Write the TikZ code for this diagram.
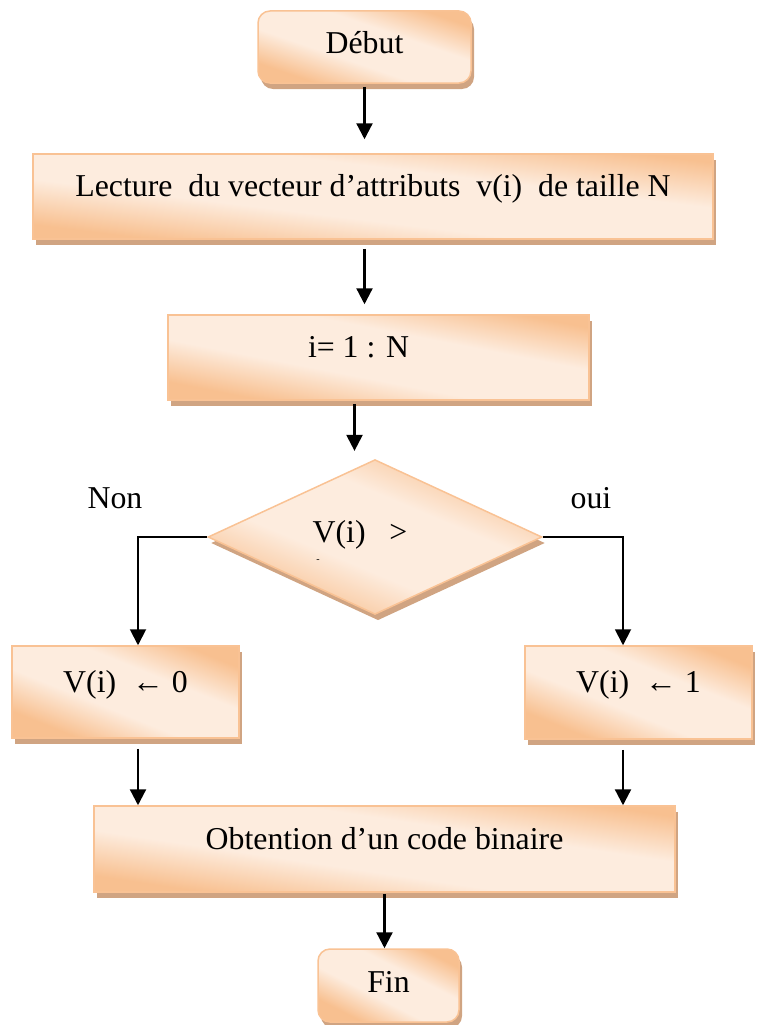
\documentclass[tikz,border=0pt]{standalone}
\usepackage{fontspec}
\setmainfont{Liberation Serif}
\usetikzlibrary{arrows.meta,shapes.geometric,shadows}
\definecolor{fillDark}{RGB}{248,192,144}
\definecolor{fillLight}{RGB}{253,236,222}
\definecolor{edgeOrange}{RGB}{249,194,148}
\definecolor{shadowTan}{RGB}{208,164,130}
% light band across the middle, warm orange towards two opposite corners
\pgfdeclareverticalshading{boxglow}{100bp}{color(0bp)=(fillDark); color(27bp)=(fillDark);
  color(42bp)=(fillLight); color(60bp)=(fillLight); color(75bp)=(fillDark); color(100bp)=(fillDark)}
\begin{document}
\begin{tikzpicture}[x=1pt,y=-1pt,
  every node/.style={font=\fontsize{31.8}{38}\selectfont, inner sep=0pt},
  flowbox/.style={draw=edgeOrange, line width=1.5pt,
    shading=boxglow, shading angle=-20,
    drop shadow={shadow xshift=3pt, shadow yshift=-6pt, fill=shadowTan, opacity=1},
    text height=14pt, text depth=14pt},
  roundbox/.style={flowbox, rounded corners=12pt, text height=22pt, text depth=8pt},
  decbox/.style={flowbox, shape=diamond, text height=20pt, text depth=10pt},
  arr/.style={-{Triangle[length=16pt,width=16pt]}, line width=2.3pt},
  branch/.style={arr, line width=1.9pt}]
\useasboundingbox (0,0) rectangle (756,1025);

% process steps (the band of light follows each box's falling diagonal)
\node[roundbox, shading angle=-19, minimum width=213pt, minimum height=72pt] (debut) at (364.5,47) {Début};
\node[flowbox, shading angle=-7, minimum width=680pt, minimum height=85pt] (lecture) at (373,196.5)
  {Lecture\ \ du vecteur d’attributs\ \ v(i)\ \ de taille N};
\node[flowbox, shading angle=-11, minimum width=421pt, minimum height=85pt] (loop) at (378.5,357.5)
  {i= 1 : N\hspace*{40pt}};
\node[decbox, shading angle=-23, minimum width=334pt, minimum height=144pt] (dec) at (375,537)
  {V(i)\ \ \ >\hspace*{30pt}};
\node[font=\fontsize{10}{12}\selectfont] (tick) at (318,561) {-};
\node[flowbox, shading angle=-22, minimum width=227pt, minimum height=92pt] (zero) at (125.5,692) {V(i)\ \ ← 0};
\node[flowbox, shading angle=-22, minimum width=227pt, minimum height=93pt] (one) at (638.5,692.5) {V(i)\ \ ← 1};
\node[flowbox, shading angle=-8.5, minimum width=581pt, minimum height=86pt] (obt) at (384.5,849)
  {Obtention d’un code binaire};
\node[roundbox, shading angle=-27, minimum width=141pt, minimum height=73pt] (fin) at (388.5,985.5) {Fin};

% branch labels
\node[anchor=base] (non) at (115,508) {Non};
\node[anchor=base] (oui) at (591,508) {oui};

% connectors
\coordinate (loopout) at ([xshift=-24pt]loop.south);
\coordinate (lcol) at ([xshift=12.5pt]zero.north);
\coordinate (rcol) at ([xshift=-15.5pt]one.north);

\draw[arr, shorten <=3pt, shorten >=14pt] (debut.south) -- (debut.south |- lecture.north);
\draw[arr, shorten <=9pt, shorten >=10pt] (debut.south |- lecture.south) -- (debut.south |- loop.north);
\draw[arr, shorten <=3pt, shorten >=8pt] (loopout) -- (loopout |- dec.north);
\draw[branch] (dec.west) -| (lcol);
\draw[branch] (dec.east) -| (rcol);
\draw[arr, shorten <=10pt] (lcol |- zero.south) -- (lcol |- obt.north);
\draw[arr, shorten <=10pt] (rcol |- one.south) -- (rcol |- obt.north);
\draw[arr, shorten <=1pt] (obt.south) -- (obt.south |- fin.north);
\end{tikzpicture}
\end{document}
